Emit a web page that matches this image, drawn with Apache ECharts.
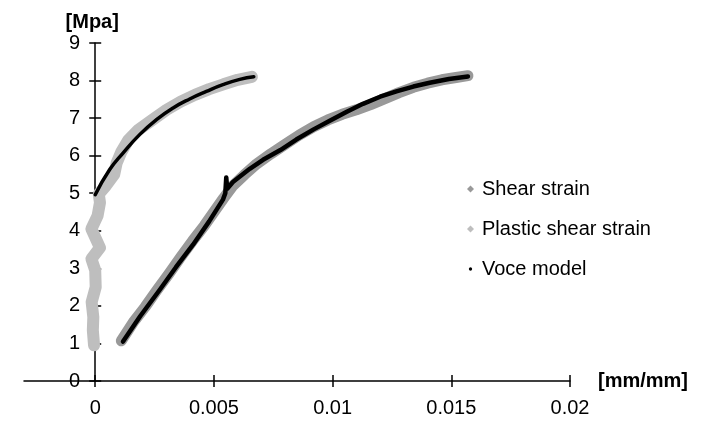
<!DOCTYPE html>
<html>
<head>
<meta charset="utf-8">
<script src="https://cdn.jsdelivr.net/npm/echarts@6/dist/echarts.min.js"></script>
<style>
  html, body { margin: 0; padding: 0; background: #ffffff; }
  #chart { width: 710px; height: 422px; }
</style>
</head>
<body>
<div id="chart"></div>
<script>
// Tick positions on the strain axis
const xTicks = [0, 0.005, 0.01, 0.015, 0.02];

// Measured shear strain [strain, stress MPa]
const shearStrain = [
  [0.0011, 1.07], [0.0016, 1.56], [0.0021, 1.97], [0.0026, 2.42], [0.0031, 2.85],
  [0.0036, 3.3], [0.0041, 3.73], [0.0046, 4.14], [0.0050, 4.5], [0.0054, 4.86],
  [0.0058, 5.2], [0.0063, 5.5], [0.0068, 5.78], [0.0074, 6.05], [0.0080, 6.3],
  [0.0086, 6.55], [0.0092, 6.77], [0.0098, 6.95], [0.0104, 7.1], [0.0110, 7.22],
  [0.0116, 7.36], [0.0122, 7.52], [0.0128, 7.68], [0.0134, 7.82], [0.0140, 7.93],
  [0.0146, 8.02], [0.0152, 8.08], [0.0157, 8.13]
];

// Measured plastic shear strain [strain, stress MPa]
const plasticShearStrain = [
  [-0.00005, 0.95], [-0.0001, 1.35], [-0.00008, 1.7], [-0.00015, 2.1], [0.00002, 2.5],
  [0.0000, 2.95], [-0.00016, 3.25], [0.0002, 3.55], [-0.00016, 4.05], [0.0001, 4.4],
  [0.0002, 4.75], [0.00015, 4.98], [0.00045, 5.2], [0.0008, 5.5], [0.0009, 5.8],
  [0.0011, 6.1], [0.0014, 6.42], [0.0018, 6.68], [0.0024, 6.95], [0.0030, 7.22],
  [0.0036, 7.44], [0.0042, 7.62], [0.0048, 7.77], [0.0054, 7.9], [0.0060, 8.02],
  [0.0066, 8.1]
];

// Voce model fitted to the shear strain curve
const voceShear = [
  [0.00117, 1.05], [0.0019, 1.73], [0.00272, 2.43], [0.0034, 3.03], [0.00412, 3.63],
  [0.0048, 4.25], [0.00538, 4.83], [0.00548, 5.0], [0.00552, 5.42], [0.00556, 5.12],
  [0.0058, 5.3], [0.00651, 5.65], [0.00707, 5.89], [0.0078, 6.15], [0.00847, 6.43],
  [0.0092, 6.7], [0.00988, 6.93], [0.0106, 7.17], [0.01128, 7.38], [0.0120, 7.57],
  [0.01269, 7.71], [0.0134, 7.84], [0.01409, 7.94], [0.0149, 8.04], [0.0157, 8.11]
];

// Voce model fitted to the plastic shear strain curve
const vocePlastic = [
  [0.0000, 4.96], [0.00061, 5.63], [0.00117, 6.07], [0.00187, 6.56], [0.00258, 6.96],
  [0.00328, 7.27], [0.00398, 7.51], [0.00468, 7.71], [0.00538, 7.89], [0.00609, 8.03],
  [0.00668, 8.1]
];

const FONT = '"Liberation Sans", Arial, sans-serif';
const SHEAR_GRAY = '#999999';
const PLASTIC_GRAY = '#bebebe';
const TICK = { color: '#000', width: 1.5 };

// Small round dot used as the Voce legend marker (corner points only widen the box)
const DOT_ICON = 'path://M0,0L0,0.01M10,10L10,9.99M7.4,5L6.7,6.7L5,7.4L3.3,6.7L2.6,5L3.3,3.3L5,2.6L6.7,3.3Z';

// Plot frame: strain runs from X_MIN to X_MAX across the frame
const X_MIN = -0.003, X_MAX = 0.02;
const FRAME = { left: 24, right: 140, top: 43, bottom: 41 };
const frameWidth = 710 - FRAME.left - FRAME.right;
// pixel column of strain = 0, where the stress axis stands
const zeroLeft = FRAME.left + frameWidth * (0 - X_MIN) / (X_MAX - X_MIN);

const mainGrid = Object.assign({ outerBoundsMode: 'none', containLabel: false }, FRAME);
const stressGrid = Object.assign({}, mainGrid, { left: zeroLeft });

const chart = echarts.init(document.getElementById('chart'), null, { renderer: 'canvas' });

chart.setOption({
  animation: false,
  backgroundColor: '#ffffff',
  textStyle: { fontFamily: FONT },
  // 0: data + strain axis, 1: inward strain ticks, 2: stress axis at zero strain, 3: inward stress ticks
  grid: [mainGrid, Object.assign({}, mainGrid), stressGrid, Object.assign({}, stressGrid)],
  legend: {
    orient: 'vertical',
    left: 462,
    top: 174,
    itemWidth: 7,
    itemHeight: 7,
    itemGap: 20,
    textStyle: { fontFamily: FONT, fontSize: 20, color: '#000', padding: [0, 0, 0, 3] },
    data: [
      { name: 'Shear strain', icon: 'diamond' },
      { name: 'Plastic shear strain', icon: 'diamond' },
      { name: 'Voce model', icon: DOT_ICON }
    ]
  },
  xAxis: [
    {
      type: 'value', gridIndex: 0, min: X_MIN, max: X_MAX,
      splitLine: { show: false },
      name: '[mm/mm]',
      nameLocation: 'end',
      nameGap: 28,
      nameTextStyle: { fontFamily: FONT, fontSize: 20, fontWeight: 'bold', color: '#000' },
      axisLine: { show: true, onZero: false, lineStyle: TICK },
      axisTick: { show: true, length: 6, customValues: xTicks, lineStyle: TICK },
      axisLabel: {
        customValues: xTicks, margin: 17, fontSize: 20, color: '#000', fontFamily: FONT,
        formatter: v => String(+(+v).toFixed(3))
      }
    },
    {
      type: 'value', gridIndex: 1, min: X_MIN, max: X_MAX,
      splitLine: { show: false },
      axisLine: { show: false, onZero: false },
      axisTick: { show: true, inside: true, length: 6, customValues: xTicks, lineStyle: TICK },
      axisLabel: { show: false }
    },
    { type: 'value', gridIndex: 2, min: 0, max: X_MAX, show: false },
    { type: 'value', gridIndex: 3, min: 0, max: X_MAX, show: false }
  ],
  yAxis: [
    { type: 'value', gridIndex: 0, min: 0, max: 9, show: false },
    { type: 'value', gridIndex: 1, min: 0, max: 9, show: false },
    {
      type: 'value', gridIndex: 2, min: 0, max: 9, interval: 1,
      splitLine: { show: false },
      name: '[Mpa]',
      nameLocation: 'end',
      nameGap: 11,
      nameTextStyle: { fontFamily: FONT, fontSize: 20, fontWeight: 'bold', color: '#000', align: 'center', padding: [0, 6, 0, 0] },
      axisLine: { show: true, onZero: false, lineStyle: TICK },
      axisTick: { show: true, length: 6, lineStyle: TICK },
      axisLabel: { margin: 15, fontSize: 20, color: '#000', fontFamily: FONT }
    },
    {
      type: 'value', gridIndex: 3, min: 0, max: 9, interval: 1,
      splitLine: { show: false },
      axisLine: { show: false, onZero: false },
      axisTick: { show: true, inside: true, length: 6, lineStyle: TICK },
      axisLabel: { show: false }
    }
  ],
  series: [
    {
      name: 'Plastic shear strain',
      type: 'line',
      data: plasticShearStrain,
      showSymbol: false,
      itemStyle: { color: PLASTIC_GRAY },
      lineStyle: { color: PLASTIC_GRAY, width: 12, join: 'round', cap: 'round' },
      z: 2
    },
    {
      name: 'Shear strain',
      type: 'line',
      data: shearStrain,
      showSymbol: false,
      itemStyle: { color: SHEAR_GRAY },
      lineStyle: { color: SHEAR_GRAY, width: 11, join: 'round', cap: 'round' },
      z: 3
    },
    {
      name: 'Voce model',
      type: 'line',
      data: vocePlastic,
      showSymbol: false,
      smooth: true,
      itemStyle: { color: '#000' },
      lineStyle: { color: '#000', width: 3.5, cap: 'round' },
      z: 4
    },
    {
      name: 'Voce model',
      type: 'line',
      data: voceShear,
      showSymbol: false,
      itemStyle: { color: '#000' },
      lineStyle: { color: '#000', width: 4.5, join: 'round', cap: 'round' },
      z: 4
    }
  ]
});
</script>
</body>
</html>
